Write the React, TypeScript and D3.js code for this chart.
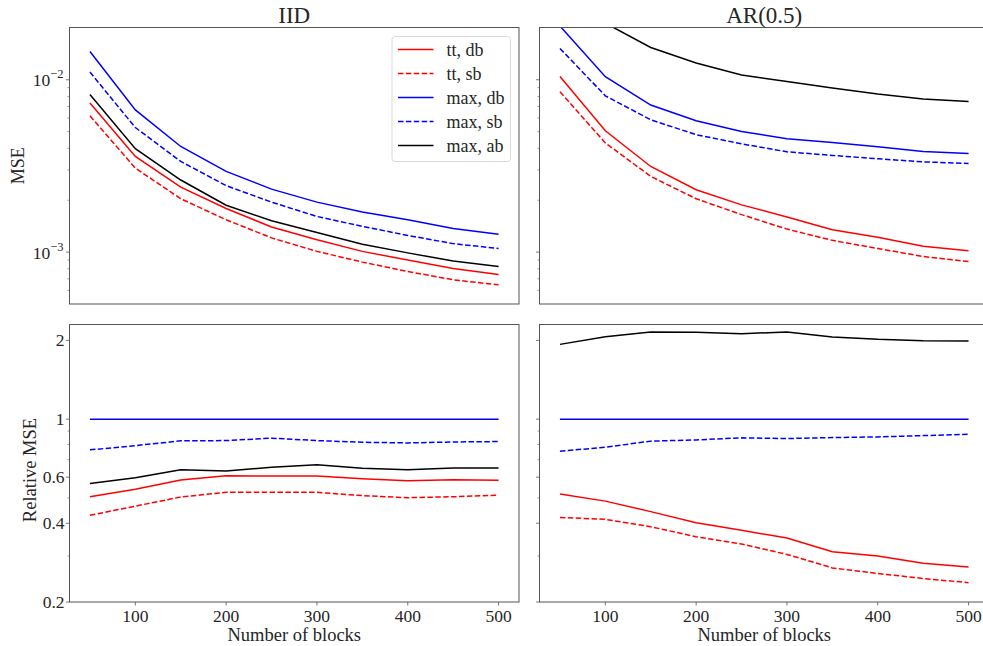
import React from 'react';
import * as d3 from 'd3';

const blocks = [50, 100, 150, 200, 250, 300, 350, 400, 450, 500];
const xTicks = [100, 200, 300, 400, 500];
const seriesNames = ['tt, db', 'tt, sb', 'max, db', 'max, sb', 'max, ab'];
const seriesColors = ['#ff0000', '#ff0000', '#0000ff', '#0000ff', '#000000'];
const seriesDashed = [false, true, false, true, false];
const colTitles = ['IID', 'AR(0.5)'];

// MSE, IID
const iidTtDb = [0.00732, 0.00359, 0.00238, 0.00179, 0.0014, 0.00118, 0.00101, 0.000899, 0.000803, 0.000741];
const iidTtSb = [0.00618, 0.00307, 0.00204, 0.00154, 0.00121, 0.00101, 0.000875, 0.000772, 0.000691, 0.000646];
const iidMaxDb = [0.01459, 0.00669, 0.0041, 0.00294, 0.00232, 0.00195, 0.00171, 0.00154, 0.00137, 0.00127];
const iidMaxSb = [0.01108, 0.00528, 0.00336, 0.00243, 0.00195, 0.00161, 0.00141, 0.00125, 0.00112, 0.00105];
const iidMaxAb = [0.00822, 0.00398, 0.00262, 0.00187, 0.00152, 0.0013, 0.00111, 0.00099, 0.000887, 0.000825];
// MSE, AR(0.5)
const arTtDb = [0.01045, 0.00506, 0.00314, 0.0023, 0.00188, 0.0016, 0.00135, 0.00122, 0.00108, 0.00102];
const arTtSb = [0.00852, 0.0043, 0.00275, 0.00204, 0.00165, 0.00136, 0.00117, 0.00105, 0.000943, 0.000882];
const arMaxDb = [0.0205, 0.01041, 0.00713, 0.00578, 0.00501, 0.00455, 0.00433, 0.00409, 0.00384, 0.00374];
const arMaxSb = [0.0152, 0.00807, 0.00586, 0.0048, 0.00425, 0.00382, 0.00364, 0.00348, 0.00334, 0.00327];
const arMaxAb = [0.0396, 0.0213, 0.0154, 0.0125, 0.01065, 0.00977, 0.00895, 0.00826, 0.00773, 0.00748];
// Relative MSE, IID
const iidRelTtDb = [0.505, 0.539, 0.585, 0.608, 0.606, 0.606, 0.592, 0.582, 0.587, 0.584];
const iidRelTtSb = [0.429, 0.465, 0.504, 0.525, 0.525, 0.525, 0.51, 0.501, 0.505, 0.512];
const iidRelMaxDb = [1, 1, 1, 1, 1, 1, 1, 1, 1, 1];
const iidRelMaxSb = [0.763, 0.792, 0.826, 0.828, 0.846, 0.828, 0.816, 0.811, 0.818, 0.821];
const iidRelMaxAb = [0.567, 0.597, 0.641, 0.634, 0.655, 0.67, 0.649, 0.641, 0.651, 0.651];
// Relative MSE, AR(0.5)
const arRelTtDb = [0.517, 0.486, 0.443, 0.402, 0.376, 0.351, 0.311, 0.3, 0.281, 0.272];
const arRelTtSb = [0.421, 0.414, 0.388, 0.355, 0.333, 0.304, 0.27, 0.257, 0.246, 0.237];
const arRelMaxDb = [1, 1, 1, 1, 1, 1, 1, 1, 1, 1];
const arRelMaxSb = [0.754, 0.781, 0.824, 0.833, 0.848, 0.843, 0.85, 0.855, 0.865, 0.876];
const arRelMaxAb = [1.931, 2.067, 2.154, 2.147, 2.122, 2.154, 2.062, 2.018, 1.995, 1.99];

const mseMajor = [1e-3, 1e-2];
const mseMinor = [6e-4, 7e-4, 8e-4, 9e-4, 2e-3, 3e-3, 4e-3, 5e-3, 6e-3, 7e-3, 8e-3, 9e-3];
const relMajor = [0.2, 0.4, 0.6, 1, 2];
const relMajorLabels = ['0.2', '0.4', '0.6', '1', '2'];
const relMinor = [0.3, 0.5, 0.7, 0.8, 0.9];

const FONT = '"Liberation Serif", "DejaVu Serif", serif';
const TEXT = '#262626';
const SPINE = '#555555';

const W = 983;
const H = 646;
const colX: [number, number][] = [[69.5, 519], [539.5, 989]];
const rowY: [number, number][] = [[27.5, 304], [324.5, 602]];

export default function App() {
  const xDomain: [number, number] = [27.5, 522.5];
  const yTop = d3.scaleLog().domain([5.0e-4, 2.01e-2]).range([rowY[0][1], rowY[0][0]]);
  const yBot = d3.scaleLog().domain([0.2, 2.3]).range([rowY[1][1], rowY[1][0]]);

  const panels = [
    { row: 0, col: 0, y: yTop, data: [iidTtDb, iidTtSb, iidMaxDb, iidMaxSb, iidMaxAb] },
    { row: 0, col: 1, y: yTop, data: [arTtDb, arTtSb, arMaxDb, arMaxSb, arMaxAb] },
    { row: 1, col: 0, y: yBot, data: [iidRelTtDb, iidRelTtSb, iidRelMaxDb, iidRelMaxSb, iidRelMaxAb] },
    { row: 1, col: 1, y: yBot, data: [arRelTtDb, arRelTtSb, arRelMaxDb, arRelMaxSb, arRelMaxAb] },
  ];

  return (
    <svg width={W} height={H} style={{ position: 'absolute', left: 0, top: 0, background: '#fff' }}>
      <defs>
        {panels.map((p, i) => (
          <clipPath id={`clip${i}`} key={i}>
            <rect x={colX[p.col][0]} y={rowY[p.row][0]} width={colX[p.col][1] - colX[p.col][0]} height={rowY[p.row][1] - rowY[p.row][0]} />
          </clipPath>
        ))}
      </defs>
      {panels.map((p, i) => {
        const x = d3.scaleLinear().domain(xDomain).range(colX[p.col]);
        const y = p.y;
        const [x0, x1] = colX[p.col];
        const [y0, y1] = rowY[p.row];
        const line = d3.line<number>().x((_, k) => x(blocks[k])).y((d) => y(d));
        const major = p.row === 0 ? mseMajor : relMajor;
        const minor = p.row === 0 ? mseMinor : relMinor;
        return (
          <g key={i}>
            <g clipPath={`url(#clip${i})`}>
              {p.data.map((s, k) => (
                <path key={k} d={line(s) || ''} fill="none" stroke={seriesColors[k]} strokeWidth={1.5}
                  strokeDasharray={seriesDashed[k] ? '5.5,2.4' : undefined} />
              ))}
            </g>
            <rect x={x0} y={y0} width={x1 - x0} height={y1 - y0} fill="none" stroke={SPINE} strokeWidth={1} />
            {major.map((v, k) => (
              <line key={'M' + k} x1={x0} x2={x0 - 3.5} y1={y(v)} y2={y(v)} stroke={SPINE} strokeWidth={0.8} />
            ))}
            {minor.map((v, k) => (
              <line key={'m' + k} x1={x0} x2={x0 - 2} y1={y(v)} y2={y(v)} stroke={SPINE} strokeWidth={0.6} />
            ))}
            {p.col === 0 && p.row === 0 && major.map((v, k) => (
              <text key={'L' + k} x={63.5} y={y(v) + 6.5} textAnchor="end" fontFamily={FONT} fontSize={17.5} fill={TEXT}>
                10<tspan dy={-8} fontSize={12.5}>{'\u2212' + String(Math.round(-Math.log10(v)))}</tspan>
              </text>
            ))}
            {p.col === 0 && p.row === 1 && major.map((v, k) => (
              <text key={'L' + k} x={64.5} y={y(v) + 6} textAnchor="end" fontFamily={FONT} fontSize={17.5} fill={TEXT}>
                {relMajorLabels[k]}
              </text>
            ))}
            {p.row === 1 && xTicks.map((v, k) => (
              <g key={'x' + k}>
                <line x1={x(v)} x2={x(v)} y1={y1} y2={y1 + 3.5} stroke={SPINE} strokeWidth={0.8} />
                <text x={x(v)} y={621.5} textAnchor="middle" fontFamily={FONT} fontSize={17.5} fill={TEXT}>{v}</text>
              </g>
            ))}
            {p.row === 1 && (
              <text x={(x0 + x1) / 2} y={641} textAnchor="middle" fontFamily={FONT} fontSize={18.5} fill={TEXT}>Number of blocks</text>
            )}
            {p.row === 0 && (
              <text x={(x0 + x1) / 2} y={22.5} textAnchor="middle" fontFamily={FONT} fontSize={23} fill={TEXT}>{colTitles[p.col]}</text>
            )}
          </g>
        );
      })}
      <text transform={`translate(23.5,${(rowY[0][0] + rowY[0][1]) / 2}) rotate(-90)`} textAnchor="middle" fontFamily={FONT} fontSize={18} fill={TEXT}>MSE</text>
      <text transform={`translate(35.5,470) rotate(-90)`} textAnchor="middle" fontFamily={FONT} fontSize={18.5} fill={TEXT}>Relative MSE</text>
      <g>
        <rect x={392} y={36.5} width={118.5} height={125} rx={3} fill="#fff" fillOpacity={0.8} stroke="#d9d9d9" strokeWidth={1} />
        {seriesNames.map((n, k) => (
          <g key={k}>
            <line x1={398} x2={433.5} y1={49.5 + k * 24} y2={49.5 + k * 24} stroke={seriesColors[k]} strokeWidth={1.5}
              strokeDasharray={seriesDashed[k] ? '5.5,2.4' : undefined} />
            <text x={446.5} y={55.5 + k * 24} fontFamily={FONT} fontSize={18} fill={TEXT}>{n}</text>
          </g>
        ))}
      </g>
    </svg>
  );
}
